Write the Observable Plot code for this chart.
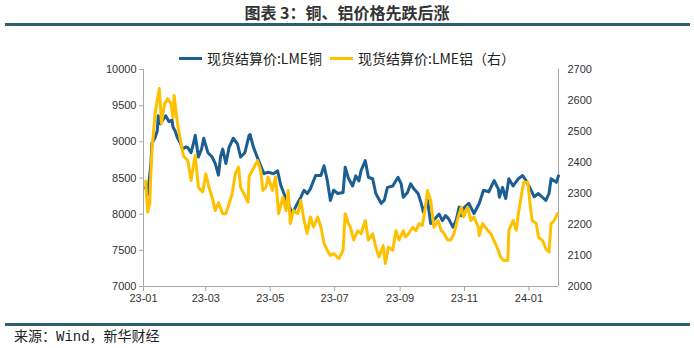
<!DOCTYPE html>
<html><head><meta charset="utf-8">
<script src="https://cdn.jsdelivr.net/npm/d3@7"></script>
<script src="https://cdn.jsdelivr.net/npm/@observablehq/plot@0.6"></script>
<style>
body{margin:0;background:#fff;}
#wrap{position:relative;width:694px;height:348px;overflow:hidden;font-family:"Noto Sans CJK SC",sans-serif;background:#fff;}
#title{position:absolute;top:2px;left:0;width:694px;text-align:center;font-size:16px;font-weight:bold;color:#333;line-height:20px;}
.rule{position:absolute;left:5px;width:685px;height:3px;background:#2d5f6c;}
#legend{position:absolute;top:48px;left:0;width:694px;display:flex;justify-content:center;align-items:center;font-size:14px;color:#222;line-height:20px;z-index:2;}
.sw{display:inline-block;width:23px;height:3px;margin-right:5px;}
.item{display:flex;align-items:center;margin:0 4px;}
#chart{position:absolute;top:50px;left:0;z-index:1;}
#source{position:absolute;top:327px;left:14px;font-size:14px;color:#222;font-family:"Liberation Mono","Noto Sans CJK SC",monospace;line-height:20px;}
</style>
</head>
<body>
<div id="wrap">
  <div id="title">图表 3：铜、铝价格先跌后涨</div>
  <div class="rule" style="top:23px"></div>
  <div id="chart"></div>
  <div id="legend"></div>
  <div class="rule" style="top:323px"></div>
  <div id="source">来源：Wind，新华财经</div>
</div>
<script>
const seriesNames = ["现货结算价:LME铜", "现货结算价:LME铝（右）"];
const seriesColors = ["#1a5e92", "#ffc000"];

const cuDates = ["2023-01-03","2023-01-05","2023-01-08","2023-01-09","2023-01-12","2023-01-14","2023-01-15","2023-01-17","2023-01-20","2023-01-22","2023-01-25","2023-01-28","2023-01-29","2023-01-31","2023-02-02","2023-02-05","2023-02-07","2023-02-10","2023-02-12","2023-02-15","2023-02-17","2023-02-19","2023-02-22","2023-02-25","2023-02-27","2023-03-03","2023-03-07","2023-03-10","2023-03-13","2023-03-15","2023-03-17","2023-03-20","2023-03-23","2023-03-27","2023-03-31","2023-04-03","2023-04-07","2023-04-11","2023-04-12","2023-04-15","2023-04-20","2023-04-25","2023-04-29","2023-05-04","2023-05-08","2023-05-11","2023-05-14","2023-05-18","2023-05-22","2023-05-25","2023-05-30","2023-06-02","2023-06-05","2023-06-08","2023-06-13","2023-06-18","2023-06-21","2023-06-24","2023-06-27","2023-06-30","2023-07-04","2023-07-09","2023-07-11","2023-07-14","2023-07-18","2023-07-21","2023-07-24","2023-07-26","2023-07-30","2023-08-02","2023-08-06","2023-08-09","2023-08-14","2023-08-17","2023-08-20","2023-08-25","2023-08-30","2023-09-02","2023-09-04","2023-09-08","2023-09-11","2023-09-14","2023-09-18","2023-09-21","2023-09-23","2023-09-27","2023-09-30","2023-10-05","2023-10-08","2023-10-11","2023-10-14","2023-10-17","2023-10-21","2023-10-24","2023-10-27","2023-10-29","2023-10-31","2023-11-05","2023-11-10","2023-11-15","2023-11-19","2023-11-24","2023-11-29","2023-12-03","2023-12-04","2023-12-07","2023-12-10","2023-12-13","2023-12-17","2023-12-22","2023-12-26","2023-12-29","2024-01-01","2024-01-06","2024-01-10","2024-01-14","2024-01-17","2024-01-20","2024-01-22","2024-01-27","2024-01-29"];
const cuValues = [8370,8270,8700,8980,9060,9150,9360,9250,9320,9360,9280,9300,9200,9150,9060,8980,8900,8930,8920,8850,8960,9090,8790,8900,9050,8850,8790,8700,8540,8800,8900,8700,8920,9050,8970,8790,8850,9090,9100,8930,8740,8560,8580,8560,8600,8400,8285,8150,8000,8100,8235,8330,8285,8350,8535,8535,8670,8470,8190,8330,8285,8300,8650,8500,8390,8530,8460,8600,8740,8510,8490,8285,8150,8190,8370,8390,8510,8420,8235,8300,8420,8350,8285,8150,8030,8190,7870,7955,8000,7910,7980,7935,7820,7910,8100,7980,8080,8150,8010,8150,8330,8310,8465,8350,8235,8370,8215,8490,8390,8490,8535,8470,8390,8240,8285,8230,8190,8285,8490,8440,8530];

const alDates = ["2023-01-03","2023-01-05","2023-01-07","2023-01-08","2023-01-09","2023-01-12","2023-01-14","2023-01-16","2023-01-18","2023-01-21","2023-01-24","2023-01-27","2023-01-29","2023-01-30","2023-02-02","2023-02-05","2023-02-08","2023-02-12","2023-02-15","2023-02-17","2023-02-19","2023-02-22","2023-02-26","2023-03-01","2023-03-04","2023-03-07","2023-03-10","2023-03-13","2023-03-17","2023-03-20","2023-03-23","2023-03-26","2023-03-29","2023-04-01","2023-04-03","2023-04-06","2023-04-10","2023-04-11","2023-04-14","2023-04-19","2023-04-22","2023-04-24","2023-04-27","2023-04-29","2023-05-03","2023-05-06","2023-05-09","2023-05-13","2023-05-16","2023-05-18","2023-05-20","2023-05-23","2023-05-27","2023-05-30","2023-06-02","2023-06-05","2023-06-08","2023-06-11","2023-06-15","2023-06-18","2023-06-21","2023-06-24","2023-06-27","2023-06-30","2023-07-05","2023-07-09","2023-07-11","2023-07-14","2023-07-16","2023-07-19","2023-07-23","2023-07-26","2023-07-30","2023-08-02","2023-08-06","2023-08-09","2023-08-12","2023-08-16","2023-08-18","2023-08-21","2023-08-25","2023-08-28","2023-08-31","2023-09-04","2023-09-06","2023-09-09","2023-09-13","2023-09-16","2023-09-19","2023-09-22","2023-09-25","2023-09-27","2023-09-30","2023-10-03","2023-10-07","2023-10-10","2023-10-12","2023-10-16","2023-10-19","2023-10-22","2023-10-26","2023-10-29","2023-10-31","2023-11-04","2023-11-07","2023-11-10","2023-11-14","2023-11-15","2023-11-18","2023-11-23","2023-11-26","2023-11-29","2023-12-03","2023-12-05","2023-12-08","2023-12-12","2023-12-13","2023-12-17","2023-12-20","2023-12-22","2023-12-24","2023-12-27","2023-12-31","2024-01-02","2024-01-04","2024-01-08","2024-01-10","2024-01-14","2024-01-17","2024-01-20","2024-01-22","2024-01-25","2024-01-28"];
const alValues = [2340,2240,2270,2370,2440,2558,2600,2639,2526,2590,2606,2590,2545,2616,2530,2471,2420,2406,2342,2385,2423,2320,2305,2364,2320,2288,2245,2270,2235,2235,2266,2300,2364,2385,2320,2300,2272,2355,2374,2406,2374,2310,2320,2353,2310,2353,2235,2288,2245,2310,2203,2245,2235,2277,2213,2171,2224,2192,2224,2192,2139,2117,2100,2106,2090,2117,2235,2203,2191,2150,2180,2170,2213,2150,2170,2127,2095,2132,2074,2127,2117,2180,2150,2180,2160,2170,2191,2180,2203,2197,2256,2310,2277,2191,2213,2180,2175,2150,2150,2170,2224,2256,2224,2256,2213,2224,2192,2164,2203,2181,2170,2148,2117,2095,2084,2084,2181,2213,2181,2235,2277,2336,2336,2268,2213,2203,2159,2148,2122,2111,2203,2213,2235];

const cuTicks = [7000,7500,8000,8500,9000,9500,10000];
const alTicks = [2000,2100,2200,2300,2400,2500,2600,2700];
const xTickDates = ["2023-01-01","2023-03-01","2023-05-01","2023-07-01","2023-09-01","2023-11-01","2024-01-01"];
const xDomain = ["2023-01-01","2024-01-29"];

const cuDom = [7000, 10000], alDom = [2000, 2700];
const toLeft = v => cuDom[0] + (v - alDom[0]) * (cuDom[1] - cuDom[0]) / (alDom[1] - alDom[0]);
const fromLeft = v => alDom[0] + (v - cuDom[0]) * (alDom[1] - alDom[0]) / (cuDom[1] - cuDom[0]);

const cu = cuDates.map((d, i) => ({date: new Date(d), v: cuValues[i]}));
const al = alDates.map((d, i) => ({date: new Date(d), v: toLeft(alValues[i])}));
const x0 = new Date(xDomain[0]), x1 = new Date(xDomain[1]);
const axisColor = "#a6a6a6";

const chart = Plot.plot({
  width: 694, height: 260,
  marginLeft: 143, marginRight: 136, marginTop: 19, marginBottom: 24,
  style: {fontFamily: "Liberation Sans, Arial, sans-serif", fontSize: "11px", background: "transparent", color: "#333"},
  x: {type: "utc", domain: [x0, x1]},
  y: {domain: cuDom},
  marks: [
    Plot.ruleX([x0], {stroke: axisColor}),
    Plot.ruleX([x1], {stroke: axisColor}),
    Plot.ruleY([cuDom[0]], {stroke: axisColor}),
    Plot.axisX({ticks: xTickDates.map(d => new Date(d)), tickFormat: d3.utcFormat("%y-%m"), tickSize: 5, tickPadding: 3, stroke: axisColor, fill: "#333", label: null}),
    Plot.axisY({anchor: "left", ticks: cuTicks, tickSize: 4, tickPadding: 3, stroke: axisColor, fill: "#333", label: null, tickFormat: d => String(d)}),
    Plot.axisY({anchor: "right", ticks: alTicks.map(toLeft), tickSize: 0, tickPadding: 9, fill: "#333", label: null, tickFormat: d => String(Math.round(fromLeft(d)))}),
    Plot.line(cu, {x: "date", y: "v", stroke: seriesColors[0], strokeWidth: 3}),
    Plot.line(al, {x: "date", y: "v", stroke: seriesColors[1], strokeWidth: 3})
  ]
});
document.getElementById("chart").appendChild(chart);

const legend = document.getElementById("legend");
seriesNames.forEach((n, i) => {
  const it = document.createElement("span");
  it.className = "item";
  it.innerHTML = `<span class="sw" style="background:${seriesColors[i]}"></span><span>${n}</span>`;
  legend.appendChild(it);
});
</script>
</body></html>
